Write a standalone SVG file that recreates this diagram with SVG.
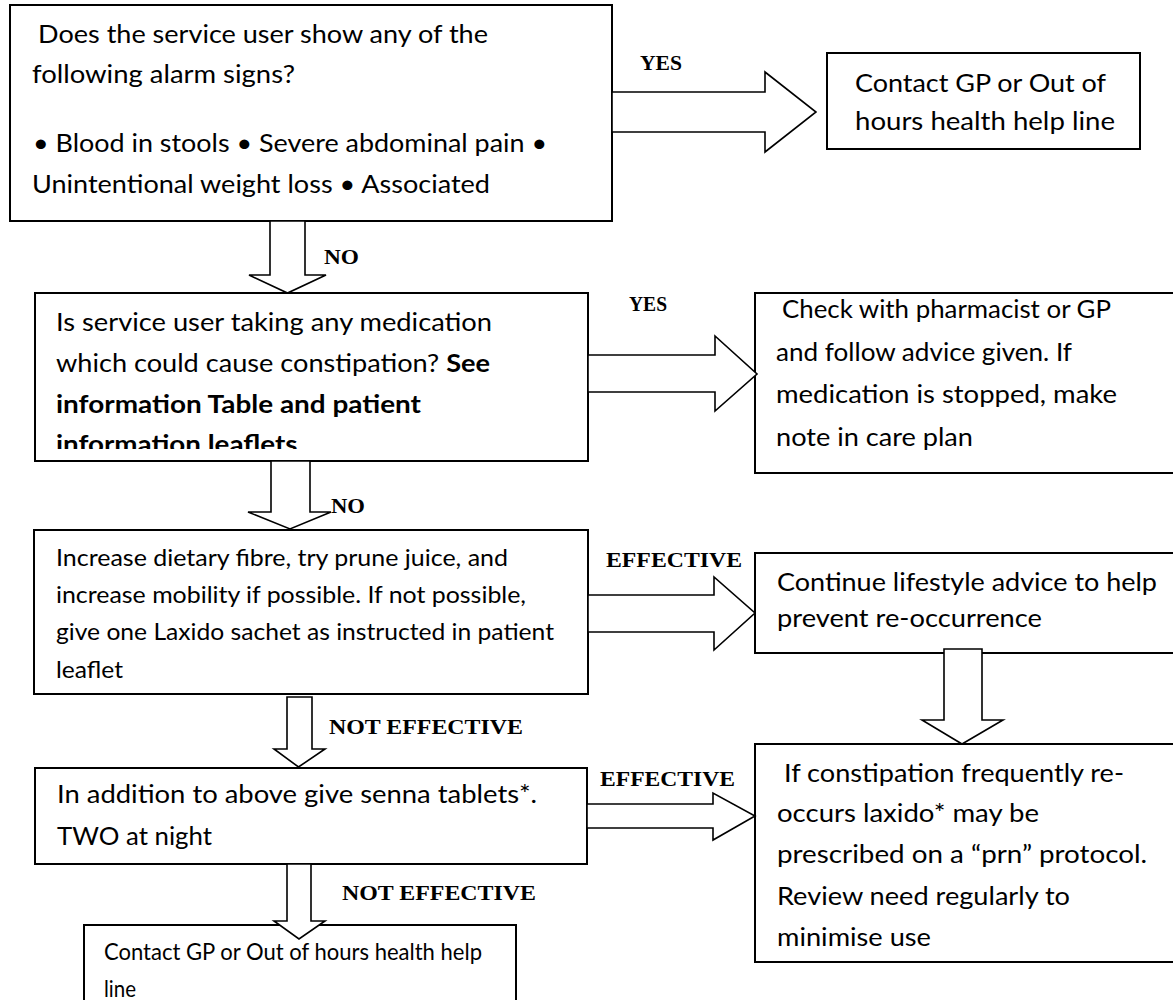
<svg xmlns="http://www.w3.org/2000/svg" width="1173" height="1000" viewBox="0 0 1173 1000">
  <style>
    .box { fill: #ffffff; stroke: #000000; stroke-width: 2; }
    .arrow { fill: #ffffff; stroke: #000000; stroke-width: 1.6; stroke-linejoin: miter; }
    .t { font-family: "Lato", "Liberation Sans", sans-serif; font-size: 24.5px; fill: #000000; }
    .ts { font-family: "Lato", "Liberation Sans", sans-serif; font-size: 22.5px; fill: #000000; }
    .b { font-weight: bold; }
    .lbl { font-family: "Liberation Serif", "Times New Roman", serif; font-size: 22px; font-weight: bold; fill: #000000; }
  </style>
  <defs>
    <clipPath id="clip-medication">
      <rect x="36" y="294" width="551" height="155"/>
    </clipPath>
  </defs>
  <rect width="1173" height="1000" fill="#ffffff"/>

  <!-- Alarm signs question -->
  <g id="alarm-signs">
    <rect class="box" x="10" y="5" width="602" height="216"/>
    <text class="t" x="38" y="43" textLength="450" lengthAdjust="spacingAndGlyphs">Does the service user show any of the</text>
    <text class="t" x="32" y="83" textLength="263" lengthAdjust="spacingAndGlyphs">following alarm signs?</text>
    <text class="t" x="33" y="152" textLength="514" lengthAdjust="spacingAndGlyphs">• Blood in stools • Severe abdominal pain •</text>
    <text class="t" x="32" y="193" textLength="458" lengthAdjust="spacingAndGlyphs">Unintentional weight loss • Associated</text>
  </g>

  <!-- Urgent contact -->
  <g id="contact-gp-urgent">
    <rect class="box" x="827" y="53" width="313" height="96"/>
    <text class="t" x="855" y="92" textLength="251" lengthAdjust="spacingAndGlyphs">Contact GP or Out of</text>
    <text class="t" x="855" y="130" textLength="260" lengthAdjust="spacingAndGlyphs">hours health help line</text>
  </g>

  <!-- Medication question -->
  <g id="medication-check">
    <rect class="box" x="35" y="293" width="553" height="168"/>
    <g clip-path="url(#clip-medication)">
      <text class="t" x="56" y="331" textLength="436" lengthAdjust="spacingAndGlyphs">Is service user taking any medication</text>
      <text class="t" x="56" y="372" textLength="434" lengthAdjust="spacingAndGlyphs">which could cause constipation? <tspan class="b">See</tspan></text>
      <text class="t b" x="56" y="413" textLength="365" lengthAdjust="spacingAndGlyphs">information Table and patient</text>
      <text class="t" x="56" y="453" textLength="248" lengthAdjust="spacingAndGlyphs"><tspan class="b">information leaflets</tspan>.</text>
    </g>
  </g>

  <!-- Pharmacist advice -->
  <g id="pharmacist-advice">
    <rect class="box" x="755" y="293" width="430" height="180"/>
    <text class="t" x="782" y="318" textLength="329" lengthAdjust="spacingAndGlyphs">Check with pharmacist or GP</text>
    <text class="t" x="776" y="361" textLength="296" lengthAdjust="spacingAndGlyphs">and follow advice given. If</text>
    <text class="t" x="776" y="403" textLength="341" lengthAdjust="spacingAndGlyphs">medication is stopped, make</text>
    <text class="t" x="776" y="446" textLength="197" lengthAdjust="spacingAndGlyphs">note in care plan</text>
  </g>

  <!-- Lifestyle first step -->
  <g id="diet-and-mobility">
    <rect class="box" x="34" y="530" width="554" height="164"/>
    <text class="ts" x="56" y="566" textLength="452" lengthAdjust="spacingAndGlyphs">Increase dietary fibre, try prune juice, and</text>
    <text class="ts" x="56" y="603" textLength="470" lengthAdjust="spacingAndGlyphs">increase mobility if possible. If not possible,</text>
    <text class="ts" x="56" y="640" textLength="498" lengthAdjust="spacingAndGlyphs">give one Laxido sachet as instructed in patient</text>
    <text class="ts" x="56" y="678" textLength="67" lengthAdjust="spacingAndGlyphs">leaflet</text>
  </g>

  <!-- Continue lifestyle advice -->
  <g id="continue-advice">
    <rect class="box" x="755" y="553" width="430" height="100"/>
    <text class="t" x="777" y="591" textLength="380" lengthAdjust="spacingAndGlyphs">Continue lifestyle advice to help</text>
    <text class="t" x="777" y="627" textLength="265" lengthAdjust="spacingAndGlyphs">prevent re-occurrence</text>
  </g>

  <!-- PRN protocol -->
  <g id="prn-protocol">
    <rect class="box" x="755" y="744" width="430" height="218"/>
    <text class="t" x="784" y="782" textLength="340" lengthAdjust="spacingAndGlyphs">If constipation frequently re-</text>
    <text class="t" x="777" y="822" textLength="262" lengthAdjust="spacingAndGlyphs">occurs laxido* may be</text>
    <text class="t" x="777" y="863" textLength="370" lengthAdjust="spacingAndGlyphs">prescribed on a “prn” protocol.</text>
    <text class="t" x="777" y="905" textLength="293" lengthAdjust="spacingAndGlyphs">Review need regularly to</text>
    <text class="t" x="777" y="946" textLength="154" lengthAdjust="spacingAndGlyphs">minimise use</text>
  </g>

  <!-- Senna step -->
  <g id="senna-tablets">
    <rect class="box" x="35" y="768" width="552" height="96"/>
    <text class="t" x="57" y="803" textLength="480" lengthAdjust="spacingAndGlyphs">In addition to above give senna tablets*.</text>
    <text class="t" x="57" y="845" textLength="155" lengthAdjust="spacingAndGlyphs">TWO at night</text>
  </g>

  <!-- Final contact -->
  <g id="contact-gp-final">
    <rect class="box" x="84" y="925" width="432" height="100"/>
    <text class="ts" x="104" y="960" textLength="378" lengthAdjust="spacingAndGlyphs">Contact GP or Out of hours health help</text>
    <text class="ts" x="104" y="997" textLength="32" lengthAdjust="spacingAndGlyphs">line</text>
  </g>

  <!-- Block arrows and their labels -->
  <g id="connectors">
    <polygon class="arrow" points="612,92 765,92 765,72 816,112 765,152 765,132 612,132"/>
    <text class="lbl" x="640" y="70" textLength="42" lengthAdjust="spacingAndGlyphs">YES</text>

    <polygon class="arrow" points="270,221 305,221 305,275 326,275 287.5,293 249,275 270,275"/>
    <text class="lbl" x="324" y="264" textLength="35" lengthAdjust="spacingAndGlyphs">NO</text>

    <polygon class="arrow" points="588,355 715,355 715,336 757,374 715,411 715,392 588,392"/>
    <text class="lbl" x="629" y="311" textLength="38" lengthAdjust="spacingAndGlyphs">YES</text>

    <polygon class="arrow" points="271,461 310,461 310,512 331,512 290,529 248,512 271,512"/>
    <text class="lbl" x="331" y="513" textLength="34" lengthAdjust="spacingAndGlyphs">NO</text>

    <polygon class="arrow" points="588,595 714,595 714,577 755,613 714,650 714,632 588,632"/>
    <text class="lbl" x="606" y="567" textLength="136" lengthAdjust="spacingAndGlyphs">EFFECTIVE</text>

    <polygon class="arrow" points="944,649 982,649 982,720 1003,720 962,744 922,720 944,720"/>

    <polygon class="arrow" points="287,697 312,697 312,749 325,749 298.5,767 274,749 287,749"/>
    <text class="lbl" x="329" y="734" textLength="194" lengthAdjust="spacingAndGlyphs">NOT EFFECTIVE</text>

    <polygon class="arrow" points="587,804 713,804 713,793 755,816 713,840 713,828 587,828"/>
    <text class="lbl" x="600" y="786" textLength="135" lengthAdjust="spacingAndGlyphs">EFFECTIVE</text>

    <polygon class="arrow" points="287,864 311,864 311,921 325,921 299,939 274,921 287,921"/>
    <text class="lbl" x="342" y="900" textLength="194" lengthAdjust="spacingAndGlyphs">NOT EFFECTIVE</text>
  </g>
</svg>
